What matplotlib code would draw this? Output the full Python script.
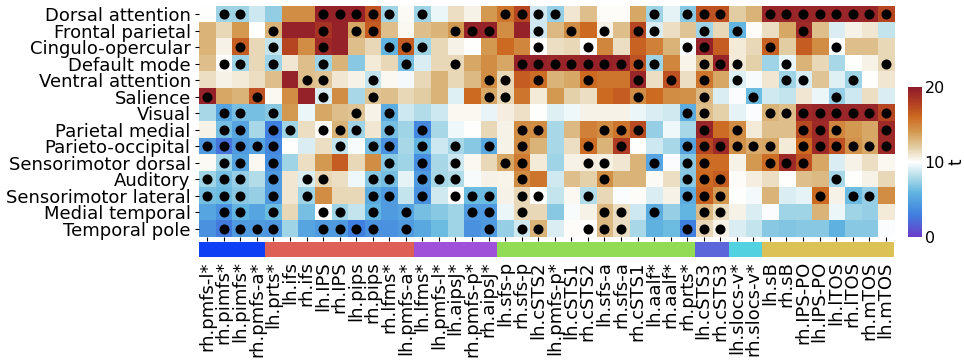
import numpy as np
import matplotlib
matplotlib.use("Agg")
from matplotlib import pyplot as plt
from matplotlib.colors import LinearSegmentedColormap

networks = ["Dorsal attention", "Frontal parietal", "Cingulo-opercular", "Default mode",
            "Ventral attention", "Salience", "Visual", "Parietal medial", "Parieto-occipital",
            "Sensorimotor dorsal", "Auditory", "Sensorimotor lateral", "Medial temporal",
            "Temporal pole"]

regions = ["rh.pmfs-l*", "rh.pimfs*", "lh.pimfs*", "rh.pmfs-a*",
           "lh.prts*", "lh.ifs", "rh.ifs", "lh.IPS", "rh.IPS", "lh.pips", "rh.pips", "rh.lfms*", "lh.pmfs-a*",
           "lh.lfms*", "lh.pmfs-l*", "lh.aipsJ*", "rh.pmfs-p*", "rh.aipsJ*",
           "lh.sfs-p", "rh.sfs-p", "lh.cSTS2", "lh.pmfs-p*", "lh.cSTS1", "rh.cSTS2", "lh.sfs-a", "rh.sfs-a",
           "rh.cSTS1", "lh.aalf*", "rh.aalf*", "rh.prts*",
           "lh.cSTS3", "rh.cSTS3",
           "lh.slocs-v*", "rh.slocs-v*",
           "lh.sB", "rh.sB", "rh.IPS-PO", "lh.IPS-PO", "lh.lTOS", "rh.lTOS", "rh.mTOS", "lh.mTOS"]

group_sizes = [4, 9, 5, 12, 2, 2, 8]
group_colors = ["#0d3ff5", "#de5f55", "#9f52d9", "#92dc55", "#5a66d9", "#52d2e0", "#dcc256"]

# t values, one row per network
t_values = [
    [10, 7.5, 7.5, 8.7, 7.2, 14.5, 14.5, 19.5, 19.5, 19.5, 17, 7.5, 10.2, 7.5, 9.5, 11.3, 10.5, 14, 15.5, 17.5, 8.8,
     7.3, 11, 12.5, 10.1, 10.1, 13.5, 7.5, 9.3, 7, 17, 17, 12, 13, 19.3, 19.3, 19.3, 19.3, 19.3, 19.3, 19.3, 17.5],
    [13, 11.5, 14, 10, 13, 19.5, 19.5, 18.5, 19.5, 13.5, 16.5, 12.5, 10.3, 12.5, 13, 14, 19.5, 19.5, 14.5, 19.5, 8.8,
     12.8, 14.5, 16, 10.5, 12.5, 17.5, 9, 11.3, 12.3, 7.5, 11.5, 6, 10.1, 11.3, 13.5, 19, 12.5, 9, 10.5, 11, 8.5],
    [13, 10.5, 16.5, 11.5, 8.5, 17.5, 14.5, 19, 19.5, 12.5, 11.5, 6, 16.5, 7.5, 11.5, 10.5, 10, 14, 16, 14.8, 10,
     11.3, 11.5, 10, 14.8, 11.3, 16.3, 15, 13, 9.8, 19.5, 16.5, 10.8, 11.5, 16.3, 12, 16.5, 14.5, 10, 12.5, 12.5, 11.5],
    [12.5, 10, 7.5, 11.5, 7.5, 11, 12.5, 7.5, 13, 7, 10.8, 11.5, 6.5, 9, 11.5, 11.5, 13.5, 14.5, 13.5, 19.5, 19.5,
     19.3, 19.3, 19.5, 19.5, 19.3, 17, 7.5, 14.8, 10.4, 12.8, 19.3, 10.8, 11.8, 7.5, 9.5, 13, 11.5, 7.8, 10, 10.5, 11.5],
    [11.3, 10.5, 10.8, 11.3, 12.5, 19.5, 12.5, 12.3, 11, 10.5, 8.5, 10.3, 9.7, 11.5, 13, 11.5, 12.8, 14.5, 11.5, 16.5, 15.8,
     13, 13.5, 16, 15.5, 15.5, 19.3, 11.3, 17, 11.3, 15.5, 13.5, 9.2, 9.8, 11, 7.5, 9, 12.3, 9.2, 7.5, 10, 11],
    [19.5, 13.5, 13, 17, 10.3, 14.5, 19.5, 9, 14.5, 7.8, 12.3, 12.5, 11.5, 12, 13, 9.2, 16, 13.5, 11.5, 15.5, 10.8,
     14, 11.8, 11.3, 16, 16.5, 14.5, 16, 14.5, 14.3, 12.8, 9, 9.9, 6.3, 8.8, 8.5, 11, 9.5, 7.3, 8.7, 11.3, 9],
    [7.8, 5, 6.5, 6.5, 7, 14, 9.5, 13.5, 12.5, 12.3, 10.5, 5.5, 8.7, 8, 8.7, 10.3, 10.3, 9.4, 10.7, 11.2, 10,
     9.2, 9.6, 10.5, 10.5, 10.5, 9.5, 9, 8.8, 5.5, 12.5, 11.8, 9.3, 9.9, 13, 12.5, 19, 19.3, 19.3, 19.3, 19.3, 17.5],
    [10.5, 6.5, 5, 7.8, 3, 7.5, 11.3, 10.2, 13, 7.5, 11, 6.5, 7.5, 3.5, 7.8, 9.6, 10, 11.5, 10.5, 14.5, 14.5,
     7.8, 12.8, 15, 14.5, 15.5, 17.3, 7.3, 9.6, 7.8, 19.3, 15.8, 14.5, 10.8, 12.5, 12.5, 17.3, 19, 14.8, 14, 13.5, 19],
    [4.5, 2.5, 4.5, 5, 3.5, 10, 9, 11.3, 8.5, 9.8, 6.5, 4, 7.8, 6, 8.7, 7.8, 7, 5.3, 10.5, 14.5, 13,
     7.8, 11.3, 15.8, 13, 18, 10, 8.7, 7.8, 5, 17.5, 19, 14.3, 13.3, 13.5, 10.8, 16, 19, 17, 14.3, 13.5, 19],
    [10.2, 7.5, 5, 10.3, 3.8, 7.5, 11.3, 14, 16.5, 11.5, 14.5, 7, 7.5, 3.8, 7.8, 8.7, 10.3, 11.5, 13.5, 15.3, 10.8,
     7.5, 10.5, 10.7, 10.6, 11, 13, 5, 9.9, 7, 15.8, 15.8, 10.5, 14, 15.8, 19, 17, 13.5, 9, 10.5, 11.3, 10.3],
    [7.5, 6.5, 7.3, 8, 4.5, 11, 9, 11.5, 11.3, 9.6, 7, 6.5, 9.3, 4.5, 7.8, 8, 9.8, 10.5, 10.4, 14.5, 15.5,
     8.8, 12.5, 11.8, 14.5, 13, 13, 10.2, 11.3, 7, 16, 16.5, 10.1, 10.7, 11.3, 10, 12.5, 12.8, 7.8, 10, 10.5, 11.5],
    [6.5, 6.3, 7, 7.3, 4.5, 11, 7.5, 14.5, 11.5, 11.5, 5.5, 4.5, 8.5, 4, 8.8, 10, 6.3, 6.3, 10.5, 11.5, 10,
     8.5, 10.3, 8, 11.5, 9.9, 10.1, 9, 10.5, 5.5, 16.3, 14, 10, 9.7, 13, 9, 9.3, 16, 10.5, 6.3, 7.3, 14.5],
    [5, 4, 6, 5, 6.3, 11.5, 6.5, 10, 7.5, 8.5, 6, 4.5, 5, 6.5, 7, 7.5, 4.5, 4.5, 9.5, 11.5, 11.5,
     7, 9.8, 10.5, 12.8, 11.3, 8.7, 5.5, 7.3, 6, 12.8, 11.3, 10.5, 9, 9.9, 7.5, 7.5, 13, 9.5, 7.5, 7.3, 10.8],
    [4, 2.8, 4.5, 4.5, 4.3, 7.5, 5, 4.5, 4.5, 3, 4, 4, 4.5, 5.3, 6.3, 7.5, 4, 4.5, 7.3, 8.8, 13,
     9, 10.1, 10, 12.8, 11.3, 7.8, 5.8, 6.3, 3, 11.5, 10.5, 9, 8.5, 7, 6.8, 7, 7, 5.8, 7, 7, 9.9],
]

# columns marked significant, one list per network
sig_cols = [
    [1, 2, 7, 8, 9, 10, 11, 13, 18, 19, 20, 21, 27, 29, 30, 31, 34, 35, 36, 37, 38, 39, 40, 41],
    [4, 7, 9, 10, 15, 16, 17, 20, 22, 24, 26, 27, 30, 32, 36],
    [2, 4, 7, 11, 12, 13, 20, 23, 29, 30, 34, 38],
    [1, 2, 4, 7, 12, 15, 19, 20, 21, 22, 23, 24, 25, 26, 27, 30, 31, 32, 35, 41],
    [6, 7, 10, 17, 18, 20, 23, 26, 28, 30, 32, 35, 36, 39],
    [0, 3, 7, 10, 17, 18, 26, 30, 33, 38],
    [1, 2, 4, 9, 11, 29, 30, 34, 35, 36, 37, 38, 39, 40, 41],
    [1, 2, 4, 5, 7, 8, 9, 11, 13, 19, 20, 24, 25, 26, 30, 32, 36, 37, 38, 41],
    [0, 1, 2, 3, 4, 8, 10, 11, 13, 15, 17, 19, 23, 25, 29, 30, 31, 32, 33, 34, 36, 37, 38, 39, 40, 41],
    [1, 2, 4, 11, 13, 15, 18, 19, 23, 24, 27, 29, 30, 34, 35, 36],
    [0, 1, 2, 4, 6, 7, 10, 11, 13, 14, 15, 19, 24, 29, 30, 31, 38],
    [0, 1, 2, 4, 6, 10, 11, 13, 15, 16, 17, 19, 20, 23, 29, 30, 31, 37, 39, 40],
    [1, 2, 4, 7, 8, 10, 12, 16, 17, 19, 24, 25, 27, 30, 31],
    [1, 2, 3, 4, 7, 8, 9, 10, 12, 17, 19, 20, 23, 24, 25, 29, 30, 31],
]

cmap = LinearSegmentedColormap.from_list("tmap", [
    (0.0, "#6a3cc8"), (0.15, "#3f80e0"), (0.3, "#62b6e0"), (0.4, "#b2dce8"),
    (0.5, "#ffffff"), (0.6, "#e2cda2"), (0.7, "#d49a52"), (0.8, "#cd6a22"),
    (0.9, "#b03c22"), (1.0, "#8e1b2c")])

plt.rcParams["font.size"] = 13
fig = plt.figure(figsize=(9.64, 3.61), dpi=100)
ax = fig.add_axes([0.2064, 0.3435, 0.721, 0.64])
data = np.array(t_values)
n_rows, n_cols = data.shape
im = ax.imshow(data, cmap=cmap, vmin=0, vmax=20, aspect="auto",
               extent=(-0.5, n_cols - 0.5, n_rows - 0.5, -0.5), interpolation="nearest")
for r, cols in enumerate(sig_cols):
    ax.scatter(cols, [r] * len(cols), s=52, c="black", linewidths=0)
ax.set_xlim(-0.5, n_cols - 0.5)
ax.set_ylim(n_rows - 0.5, -0.5)
ax.set_yticks(range(n_rows))
ax.set_yticklabels(networks)
ax.set_xticks(range(n_cols))
ax.set_xticklabels([])
ax.tick_params(length=3, width=0.8, pad=3)
for s in ax.spines.values():
    s.set_visible(False)

# group colour strip
sax = fig.add_axes([0.2064, 0.288, 0.721, 0.0416])
left = 0
for size, col in zip(group_sizes, group_colors):
    sax.bar(left - 0.5, 1, width=size, align="edge", color=col, linewidth=0)
    left += size
sax.set_xlim(-0.5, n_cols - 0.5)
sax.set_ylim(0, 1)
sax.set_yticks([])
sax.set_xticks(range(n_cols))
sax.set_xticklabels(regions, rotation=90)
sax.tick_params(length=0, pad=3)
for s in sax.spines.values():
    s.set_visible(False)

cax = fig.add_axes([0.9419, 0.3435, 0.0145, 0.4155])
cb = fig.colorbar(im, cax=cax, ticks=[0, 10, 20])
cb.outline.set_visible(False)
cb.ax.tick_params(length=0, pad=2, labelsize=11.5)
fig.text(956 / 964, 1 - 162 / 361, "t", rotation=90, ha="center", va="center", fontsize=12)

fig.savefig("out.png", dpi=100)
